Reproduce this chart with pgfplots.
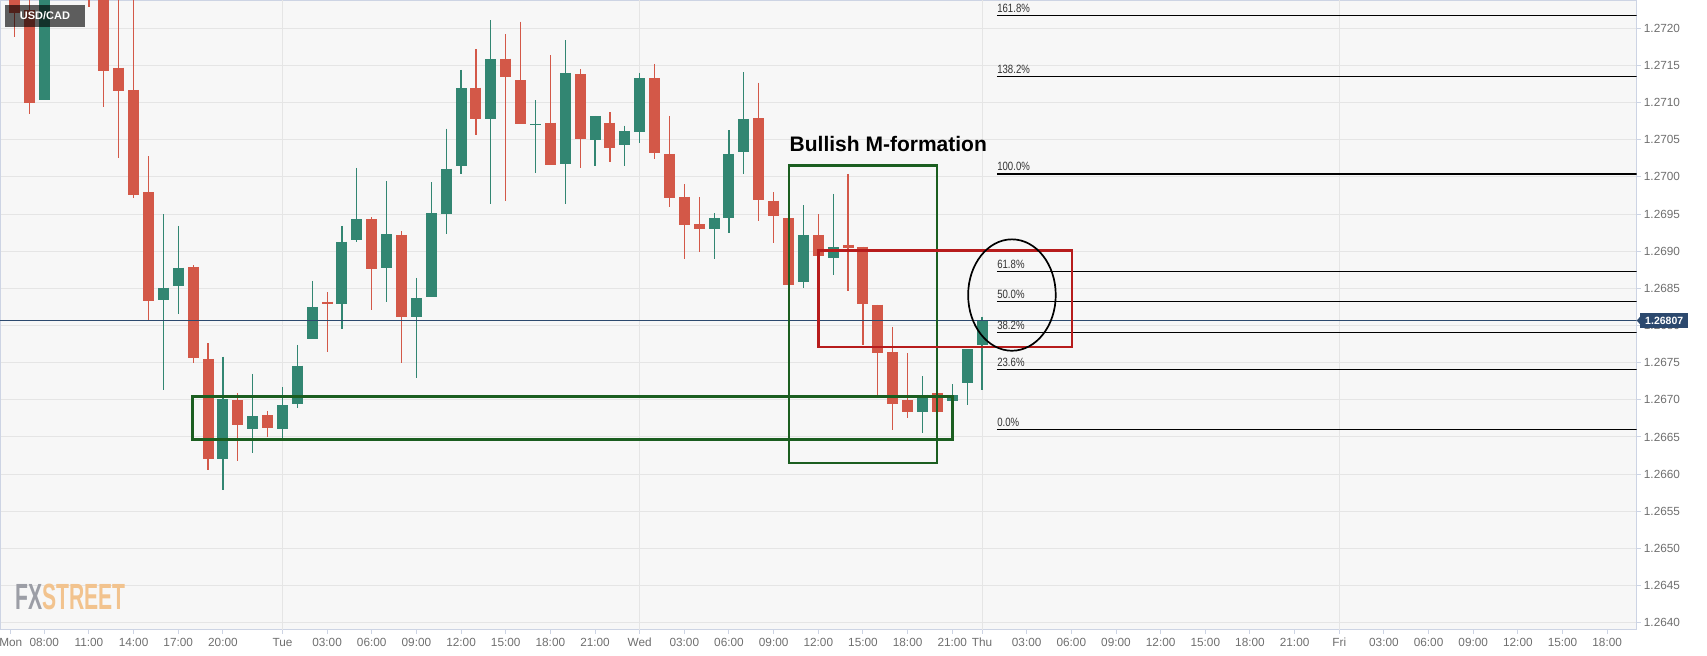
\documentclass[border=0pt]{standalone}
\usepackage{fontspec}
\setmainfont{Liberation Sans}
\newfontfamily\narrowfont[FakeStretch=0.8]{Liberation Sans}
\newfontfamily\logofont[FakeStretch=0.58]{Liberation Sans}
\usepackage{pgfplots}
\usepackage{pgfplotstable}
\pgfplotsset{compat=1.18}

\definecolor{bull}{RGB}{50,134,114}
\definecolor{bear}{RGB}{211,88,72}
\definecolor{gridc}{RGB}{229,229,229}
\definecolor{bgc}{RGB}{247,247,247}
\definecolor{framec}{RGB}{205,212,228}
\definecolor{labc}{RGB}{110,110,110}
\definecolor{navy}{RGB}{44,73,110}
\definecolor{boxgreen}{RGB}{27,94,32}
\definecolor{boxred}{RGB}{183,28,28}
\definecolor{fxgray}{RGB}{156,158,166}
\definecolor{fxorange}{RGB}{242,195,142}

% hourly candles, k = slot (0 = Mon 08:00)
\pgfplotstableread{
k  o       h       l       c
-2 1.27250 1.27262 1.27188 1.27221
-1 1.27225 1.27248 1.27084 1.27100
3  1.27270 1.27285 1.27228 1.27245
4  1.27248 1.27258 1.27094 1.27142
5  1.27147 1.27242 1.27025 1.27116
6  1.27117 1.27240 1.26972 1.26975
7  1.26979 1.27028 1.26807 1.26833
10 1.26879 1.26881 1.26749 1.26756
11 1.26755 1.26776 1.26606 1.26620
13 1.26700 1.26709 1.26617 1.26666
15 1.26679 1.26685 1.26650 1.26662
19 1.26832 1.26845 1.26764 1.26829
22 1.26943 1.26946 1.26821 1.26876
24 1.26922 1.26927 1.26749 1.26811
29 1.27120 1.27172 1.27057 1.27078
31 1.27159 1.27192 1.26967 1.27135
32 1.27130 1.27209 1.27071 1.27071
34 1.27073 1.27164 1.27016 1.27016
36 1.27138 1.27145 1.27012 1.27051
38 1.27073 1.27087 1.27020 1.27039
41 1.27133 1.27152 1.27024 1.27032
42 1.27031 1.27082 1.26959 1.26971
43 1.26973 1.26990 1.26889 1.26935
44 1.26936 1.26973 1.26899 1.26930
48 1.27079 1.27127 1.26940 1.26969
49 1.26968 1.26979 1.26911 1.26947
50 1.26945 1.26945 1.26855 1.26855
52 1.26922 1.26950 1.26893 1.26894
54 1.26909 1.27004 1.26847 1.26904
55 1.26906 1.26906 1.26774 1.26829
56 1.26828 1.26828 1.26706 1.26763
57 1.26764 1.26798 1.26659 1.26695
58 1.26700 1.26763 1.26675 1.26684
60 1.26709 1.26709 1.26684 1.26684
}\beartab

\pgfplotstableread{
k  o       h       l       c
0  1.27103 1.27262 1.27103 1.27250
8  1.26834 1.26950 1.26713 1.26851
9  1.26853 1.26934 1.26816 1.26878
12 1.26621 1.26758 1.26578 1.26701
14 1.26661 1.26735 1.26628 1.26678
16 1.26661 1.26717 1.26647 1.26693
17 1.26695 1.26774 1.26689 1.26746
18 1.26782 1.26860 1.26782 1.26825
20 1.26829 1.26934 1.26795 1.26913
21 1.26915 1.27012 1.26912 1.26943
23 1.26877 1.26994 1.26831 1.26923
25 1.26812 1.26864 1.26729 1.26837
26 1.26839 1.26993 1.26839 1.26951
27 1.26950 1.27065 1.26923 1.27011
28 1.27014 1.27144 1.27004 1.27119
30 1.27078 1.27211 1.26964 1.27158
33 1.27070 1.27103 1.27005 1.27071
35 1.27017 1.27184 1.26964 1.27140
37 1.27050 1.27082 1.27014 1.27082
39 1.27043 1.27069 1.27015 1.27062
40 1.27060 1.27140 1.27045 1.27133
45 1.26930 1.26951 1.26889 1.26945
46 1.26945 1.27063 1.26925 1.27031
47 1.27033 1.27141 1.27004 1.27078
51 1.26858 1.26962 1.26851 1.26922
53 1.26891 1.26977 1.26868 1.26905
59 1.26684 1.26732 1.26655 1.26707
61 1.26699 1.26721 1.26699 1.26706
62 1.26723 1.26768 1.26693 1.26768
63 1.26774 1.26812 1.26713 1.26807
}\bulltab

\pgfplotsset{
  wick/.style={draw=none, no markers, forget plot,
    error bars/.cd, y dir=minus, y explicit, error mark=none,
    error bar style={draw=#1, line width=0.6pt}},
  body/.style={draw=none, no markers, forget plot,
    error bars/.cd, y dir=minus, y explicit, error mark=none,
    error bar style={draw=#1, line width=5.5pt}},
}

\begin{document}
\begin{tikzpicture}
\useasboundingbox (0,-12.75pt) rectangle (853.5pt,314.75pt);
\begin{axis}[
  at={(0,0)}, anchor=south west,
  scale only axis, width=818.25pt, height=314.5pt,
  xmin=-2.976, xmax=106.97,
  ymin=1.263909, ymax=1.272374,
  axis background/.style={fill=bgc},
  axis line style={framec, line width=0.5pt},
  tick style={framec, line width=0.5pt},
  tick align=outside, major tick length=2pt,
  xtick={-2.25,0,3,6,9,12,16,19,22,25,28,31,34,37,40,43,46,49,52,55,58,61,63,66,69,72,75,78,81,84,87,90,93,96,99,102,105},
  xticklabels={Mon,08:00,11:00,14:00,17:00,20:00,Tue,03:00,06:00,09:00,12:00,15:00,18:00,21:00,Wed,03:00,06:00,09:00,12:00,15:00,18:00,21:00,Thu,03:00,06:00,09:00,12:00,15:00,18:00,21:00,Fri,03:00,06:00,09:00,12:00,15:00,18:00},
  extra x ticks={16,40,63,87}, extra x tick labels={},
  extra x tick style={grid=major},
  ytick={1.2640,1.2645,1.2650,1.2655,1.2660,1.2665,1.2670,1.2675,1.2680,1.2685,1.2690,1.2695,1.2700,1.2705,1.2710,1.2715,1.2720},
  scaled y ticks=false,
  yticklabel pos=right,
  yticklabel style={anchor=west, inner sep=0pt, xshift=1.5pt,
    /pgf/number format/.cd, fixed, fixed zerofill, precision=4, 1000 sep={}, assume math mode=true},
  xticklabel style={anchor=north, inner sep=0pt, yshift=-2pt},
  ticklabel style={font=\fontsize{5.9}{6.5}\selectfont, text=labc},
  ymajorgrids, major grid style={gridc, line width=0.5pt},
]
% wicks
\addplot[wick=bear] table[x=k, y=h, y error minus expr=\thisrow{h}-\thisrow{l}] {\beartab};
\addplot[wick=bull] table[x=k, y=h, y error minus expr=\thisrow{h}-\thisrow{l}] {\bulltab};
% bodies
\addplot[body=bear] table[x=k, y=o, y error minus expr=\thisrow{o}-\thisrow{c}] {\beartab};
\addplot[body=bull] table[x=k, y=c, y error minus expr=\thisrow{c}-\thisrow{o}] {\bulltab};

% current price
\addplot[navy, line width=0.5pt, forget plot] coordinates {(-2.976,1.26807) (106.97,1.26807)};

% Fibonacci levels
\foreach \lv/\lab in {1.26660/0.0, 1.26741/23.6, 1.26791/38.2, 1.26832/50.0, 1.26873/61.8, 1.27004/100.0, 1.27135/138.2, 1.27217/161.8}{
  \edef\temp{\noexpand\addplot[black, line width=0.65pt, forget plot] coordinates {(64,\lv) (106.97,\lv)};
    \noexpand\node[anchor=south west, inner sep=0pt, yshift=1.3pt, text=black!80,
      font=\noexpand\narrowfont\noexpand\fontsize{6}{6.5}\noexpand\selectfont] at (axis cs:64,\lv) {\lab\noexpand\%};}
  \temp
}

% annotations
\draw[boxgreen, line width=1.35pt] (axis cs:9.97,1.26704) rectangle (axis cs:61.0,1.26647);
\draw[boxgreen, line width=1.35pt] (axis cs:50.03,1.27015) rectangle (axis cs:59.97,1.26615);
\draw[boxred, line width=1.35pt] (axis cs:52.0,1.26901) rectangle (axis cs:69.04,1.26771);
\draw[black, line width=0.85pt] (axis cs:65.01,1.26841) ellipse [x radius=21.9pt, y radius=27.85pt];
\end{axis}

% price tag
\fill[navy] (818.4pt,154.5pt) -- (820.2pt,156.6pt) -- (820.2pt,152.4pt) -- cycle;
\fill[navy] (820pt,150.6pt) rectangle (844.2pt,158.4pt);
\node[text=white, font=\bfseries\fontsize{5.25}{6}\selectfont, inner sep=0pt] at (832.1pt,154.5pt) {1.26807};

% instrument label
\fill[black, fill opacity=0.62] (2.5pt,301.4pt) rectangle (42.5pt,312.25pt);
\node[text=white!92, font=\bfseries\fontsize{5.5}{6}\selectfont, inner sep=0pt] at (22.5pt,306.8pt) {USD/CAD};

% title
\node[anchor=base west, inner sep=0pt, font=\bfseries\fontsize{10.5}{12}\selectfont] at (394.65pt,239.25pt) {Bullish M-formation};

% logo
\node[anchor=base west, inner sep=0pt] at (7.5pt,10.25pt) {\logofont\bfseries\fontsize{18.2}{20}\selectfont\textcolor{fxgray}{FX}\textcolor{fxorange}{STREET}};
\end{tikzpicture}
\end{document}
